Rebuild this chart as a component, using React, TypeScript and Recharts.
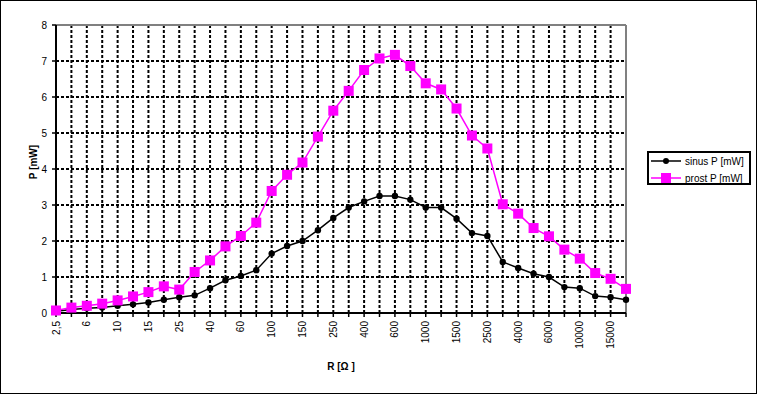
import React from "react";
import {
  LineChart,
  Line,
  XAxis,
  YAxis,
  CartesianGrid,
  ReferenceLine,
} from "recharts";

const categories = [
  "2,5", "4", "6", "8", "10", "12", "15", "20", "25", "30",
  "40", "50", "60", "80", "100", "120", "150", "200", "250", "300",
  "400", "500", "600", "800", "1000", "1200", "1500", "2000", "2500", "3000",
  "4000", "5000", "6000", "8000", "10000", "12000", "15000", "20000",
];

const sinusP = [
  0.05, 0.1, 0.13, 0.15, 0.2, 0.24, 0.29, 0.37, 0.44, 0.49,
  0.69, 0.91, 1.03, 1.19, 1.65, 1.86, 2.0, 2.3, 2.64, 2.93,
  3.1, 3.25, 3.25, 3.15, 2.93, 2.93, 2.62, 2.22, 2.14, 1.42,
  1.25, 1.09, 1.0, 0.72, 0.69, 0.47, 0.44, 0.37,
];

const prostP = [
  0.07, 0.15, 0.2, 0.26, 0.35, 0.46, 0.58, 0.74, 0.65, 1.14,
  1.46, 1.85, 2.14, 2.51, 3.39, 3.84, 4.18, 4.9, 5.62, 6.17,
  6.75, 7.07, 7.17, 6.86, 6.38, 6.21, 5.68, 4.93, 4.57, 3.02,
  2.76, 2.36, 2.13, 1.76, 1.51, 1.11, 0.95, 0.67,
];

const yTicks = [0, 1, 2, 3, 4, 5, 6, 7, 8];

const FONT = "'Liberation Sans', Arial, sans-serif";
const PINK = "#ff00ff";

const chartData = categories.map((r, i) => ({
  r,
  sinus: sinusP[i],
  prost: prostP[i],
}));

// only every other category gets a label, like the Excel original
const XTick = (props: any) => {
  const { x, y, payload, index } = props;
  const idx = payload?.index ?? index;
  if (idx % 2 !== 0) return null;
  return (
    <g transform={`translate(${x},${y + 2})`}>
      <text
        transform="rotate(-90)"
        x={0}
        y={0}
        dy="0.35em"
        textAnchor="end"
        fontSize={10}
        fontFamily={FONT}
        fill="#000"
      >
        {payload.value}
      </text>
    </g>
  );
};

const SquareDot = (props: any) => {
  const { cx, cy } = props;
  if (cx == null || cy == null) return null;
  return <rect x={cx - 5} y={cy - 5} width={10} height={10} fill={PINK} />;
};

const BlackDot = (props: any) => {
  const { cx, cy } = props;
  if (cx == null || cy == null) return null;
  return <circle cx={cx} cy={cy} r={3.2} fill="#000" />;
};

const LegendBox = () => (
  <div
    style={{
      position: "absolute",
      left: 647,
      top: 151,
      width: 104,
      height: 34,
      boxSizing: "border-box",
      border: "2px solid #000",
      background: "#fff",
      fontFamily: FONT,
      fontSize: 10,
    }}
  >
    <svg width={100} height={30} style={{ position: "absolute", left: 0, top: 0 }}>
      <line x1={2} y1={8} x2={32} y2={8} stroke="#000" strokeWidth={1.5} />
      <circle cx={17} cy={8} r={3} fill="#000" />
      <text x={36} y={8} dy="0.35em" fontSize={10} fontFamily={FONT} fill="#000">
        sinus P [mW]
      </text>
      <line x1={2} y1={25} x2={32} y2={25} stroke={PINK} strokeWidth={1.5} />
      <rect x={12} y={20} width={10} height={10} fill={PINK} />
      <text x={36} y={25} dy="0.35em" fontSize={10} fontFamily={FONT} fill="#000">
        prost P [mW]
      </text>
    </svg>
  </div>
);

export default function App() {
  return (
    <div
      style={{
        position: "absolute",
        left: 0,
        top: 0,
        width: 762,
        height: 396,
        background: "#fff",
      }}
    >
      <LineChart
        width={762}
        height={396}
        data={chartData}
        margin={{ top: 25, right: 136, bottom: 33, left: 16 }}
      >
        <CartesianGrid stroke="#000" strokeDasharray="3 2" strokeWidth={2} />
        <XAxis
          dataKey="r"
          interval={0}
          height={50}
          tick={<XTick />}
          tickSize={4}
          stroke="#000"
          axisLine={{ stroke: "#000", strokeWidth: 2 }}
          tickLine={{ stroke: "#000", strokeWidth: 1.5 }}
        />
        <YAxis
          width={40}
          domain={[0, 8]}
          ticks={yTicks}
          interval={0}
          tickSize={4}
          tickMargin={5}
          axisLine={{ stroke: "#000", strokeWidth: 2 }}
          tickLine={{ stroke: "#000", strokeWidth: 1.5 }}
          tick={{ fontSize: 10, fontFamily: FONT, fill: "#000" }}
        />
        <ReferenceLine y={8} stroke="#808080" strokeWidth={2} />
        <ReferenceLine x="20000" stroke="#808080" strokeWidth={2} />
        <Line
          dataKey="sinus"
          stroke="#000"
          strokeWidth={1.5}
          dot={<BlackDot />}
          activeDot={false}
          isAnimationActive={false}
        />
        <Line
          dataKey="prost"
          stroke={PINK}
          strokeWidth={1.5}
          dot={<SquareDot />}
          activeDot={false}
          isAnimationActive={false}
        />
        <text
          x={33}
          y={162}
          transform="rotate(-90, 33, 162)"
          textAnchor="middle"
          dy="0.35em"
          fontSize={10}
          fontWeight="bold"
          fontFamily={FONT}
          fill="#000"
        >
          P [mW]
        </text>
        <text
          x={341}
          y={366}
          textAnchor="middle"
          dy="0.35em"
          fontSize={10}
          fontWeight="bold"
          fontFamily={FONT}
          fill="#000"
        >
          R [Ω ]
        </text>
      </LineChart>
      <LegendBox />
      <div
        style={{
          position: "absolute",
          left: 0,
          top: 0,
          width: 757,
          height: 394,
          boxSizing: "border-box",
          border: "1px solid #000",
          pointerEvents: "none",
        }}
      />
    </div>
  );
}
